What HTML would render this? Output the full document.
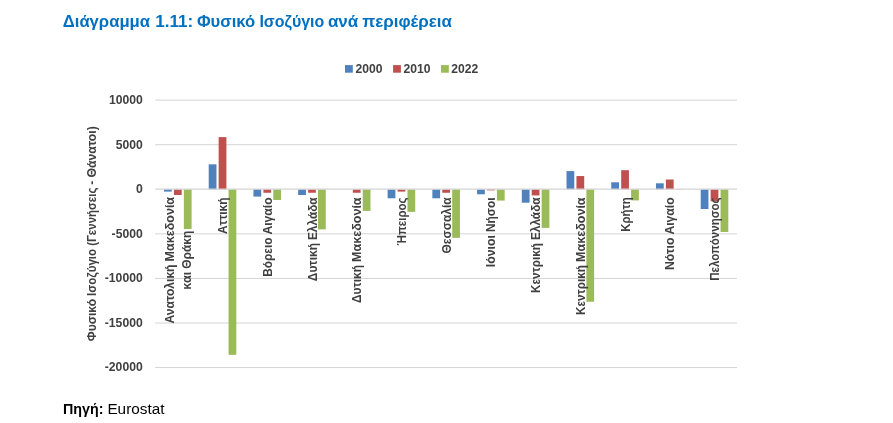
<!DOCTYPE html>
<html lang="el"><head><meta charset="utf-8"><title>Διάγραμμα 1.11</title>
<style>html,body{margin:0;padding:0;background:#fff}svg{display:block}text{font-family:"Liberation Sans",sans-serif}</style></head>
<body>
<svg width="893" height="423" viewBox="0 0 893 423">
<rect width="893" height="423" fill="#fff"/>
<g font-weight="bold" font-size="16" fill="#0070C0">
<text x="62.8" y="27" textLength="87.2" lengthAdjust="spacingAndGlyphs">Διάγραμμα</text>
<text x="155.2" y="27" textLength="38.0" lengthAdjust="spacingAndGlyphs">1.11:</text>
<text x="196.9" y="27" textLength="58.3" lengthAdjust="spacingAndGlyphs">Φυσικό</text>
<text x="259.4" y="27" textLength="64.9" lengthAdjust="spacingAndGlyphs">Ισοζύγιο</text>
<text x="327.9" y="27" textLength="30.4" lengthAdjust="spacingAndGlyphs">ανά</text>
<text x="362.3" y="27" textLength="89.6" lengthAdjust="spacingAndGlyphs">περιφέρεια</text>
</g>
<g font-weight="bold" font-size="12" fill="#404040">
<rect x="345.0" y="65.1" width="7.8" height="7.6" fill="#4F81BD"/><text x="355.6" y="73.1" textLength="27" lengthAdjust="spacingAndGlyphs">2000</text>
<rect x="393.1" y="65.1" width="7.8" height="7.6" fill="#C0504D"/><text x="403.4" y="73.1" textLength="27" lengthAdjust="spacingAndGlyphs">2010</text>
<rect x="441.0" y="65.1" width="7.8" height="7.6" fill="#9BBB59"/><text x="451.3" y="73.1" textLength="27" lengthAdjust="spacingAndGlyphs">2022</text>
</g>
<g stroke="#D4D4D4" stroke-width="1">
<line x1="155.2" y1="100.10" x2="737" y2="100.10"/>
<line x1="155.2" y1="144.70" x2="737" y2="144.70"/>
<line x1="155.2" y1="233.85" x2="737" y2="233.85"/>
<line x1="155.2" y1="278.45" x2="737" y2="278.45"/>
<line x1="155.2" y1="323.00" x2="737" y2="323.00"/>
<line x1="155.2" y1="367.55" x2="737" y2="367.55"/>
</g>
<g font-weight="bold" font-size="12" fill="#404040" text-anchor="end">
<text x="142.7" y="104.0" textLength="33.8" lengthAdjust="spacingAndGlyphs">10000</text>
<text x="142.7" y="148.6" textLength="27.0" lengthAdjust="spacingAndGlyphs">5000</text>
<text x="142.7" y="193.2" textLength="6.8" lengthAdjust="spacingAndGlyphs">0</text>
<text x="142.7" y="237.8" textLength="31.1" lengthAdjust="spacingAndGlyphs">-5000</text>
<text x="142.7" y="282.3" textLength="37.9" lengthAdjust="spacingAndGlyphs">-10000</text>
<text x="142.7" y="326.9" textLength="37.9" lengthAdjust="spacingAndGlyphs">-15000</text>
<text x="142.7" y="371.4" textLength="37.9" lengthAdjust="spacingAndGlyphs">-20000</text>
</g>
<g>
<rect x="164.00" y="189.30" width="7.75" height="2.31" fill="#4F81BD"/>
<rect x="173.93" y="189.30" width="7.75" height="5.69" fill="#C0504D"/>
<rect x="208.72" y="164.32" width="7.75" height="24.98" fill="#4F81BD"/>
<rect x="218.65" y="137.12" width="7.75" height="52.18" fill="#C0504D"/>
<rect x="253.45" y="189.30" width="7.75" height="7.29" fill="#4F81BD"/>
<rect x="263.38" y="189.30" width="7.75" height="3.47" fill="#C0504D"/>
<rect x="298.18" y="189.30" width="7.75" height="5.69" fill="#4F81BD"/>
<rect x="308.11" y="189.30" width="7.75" height="3.47" fill="#C0504D"/>
<rect x="342.90" y="189.30" width="7.75" height="0.00" fill="#4F81BD"/>
<rect x="352.83" y="189.30" width="7.75" height="3.47" fill="#C0504D"/>
<rect x="387.62" y="189.30" width="7.75" height="8.98" fill="#4F81BD"/>
<rect x="397.56" y="189.30" width="7.75" height="2.31" fill="#C0504D"/>
<rect x="432.35" y="189.30" width="7.75" height="8.98" fill="#4F81BD"/>
<rect x="442.28" y="189.30" width="7.75" height="3.47" fill="#C0504D"/>
<rect x="477.07" y="189.30" width="7.75" height="4.98" fill="#4F81BD"/>
<rect x="487.00" y="189.30" width="7.75" height="1.07" fill="#C0504D"/>
<rect x="521.80" y="189.30" width="7.75" height="13.42" fill="#4F81BD"/>
<rect x="531.73" y="189.30" width="7.75" height="6.13" fill="#C0504D"/>
<rect x="566.52" y="171.08" width="7.75" height="18.22" fill="#4F81BD"/>
<rect x="576.46" y="176.05" width="7.75" height="13.25" fill="#C0504D"/>
<rect x="611.25" y="182.28" width="7.75" height="7.02" fill="#4F81BD"/>
<rect x="621.18" y="170.19" width="7.75" height="19.11" fill="#C0504D"/>
<rect x="655.97" y="183.30" width="7.75" height="6.00" fill="#4F81BD"/>
<rect x="665.90" y="179.52" width="7.75" height="9.78" fill="#C0504D"/>
<rect x="700.70" y="189.30" width="7.75" height="19.74" fill="#4F81BD"/>
<rect x="710.63" y="189.30" width="7.75" height="11.91" fill="#C0504D"/>
</g>
<g>
<rect x="183.85" y="189.30" width="7.75" height="39.74" fill="#9BBB59"/>
<rect x="228.57" y="189.30" width="7.75" height="165.53" fill="#9BBB59"/>
<rect x="273.30" y="189.30" width="7.75" height="10.67" fill="#9BBB59"/>
<rect x="318.02" y="189.30" width="7.75" height="40.09" fill="#9BBB59"/>
<rect x="362.75" y="189.30" width="7.75" height="21.60" fill="#9BBB59"/>
<rect x="407.47" y="189.30" width="7.75" height="22.58" fill="#9BBB59"/>
<rect x="452.20" y="189.30" width="7.75" height="48.54" fill="#9BBB59"/>
<rect x="496.92" y="189.30" width="7.75" height="11.29" fill="#9BBB59"/>
<rect x="541.65" y="189.30" width="7.75" height="38.58" fill="#9BBB59"/>
<rect x="586.38" y="189.30" width="7.75" height="112.46" fill="#9BBB59"/>
<rect x="631.10" y="189.30" width="7.75" height="11.11" fill="#9BBB59"/>
<rect x="675.82" y="189.30" width="7.75" height="0.27" fill="#9BBB59"/>
<rect x="720.55" y="189.30" width="7.75" height="42.67" fill="#9BBB59"/>
</g>
<g font-weight="bold" font-size="12" fill="#404040">
<g transform="translate(174.36,323.47) rotate(-90)"><text x="0.00" y="0" textLength="58.96" lengthAdjust="spacingAndGlyphs">Ανατολική</text><text x="62.01" y="0" textLength="64.56" lengthAdjust="spacingAndGlyphs">Μακεδονία</text></g>
<g transform="translate(190.76,289.64) rotate(-90)"><text x="0.00" y="0" textLength="17.87" lengthAdjust="spacingAndGlyphs">και</text><text x="20.92" y="0" textLength="37.99" lengthAdjust="spacingAndGlyphs">Θράκη</text></g>
<g transform="translate(227.09,234.04) rotate(-90)"><text x="0.00" y="0" textLength="36.64" lengthAdjust="spacingAndGlyphs">Αττική</text></g>
<g transform="translate(271.81,276.73) rotate(-90)"><text x="0.00" y="0" textLength="39.14" lengthAdjust="spacingAndGlyphs">Βόρειο</text><text x="42.19" y="0" textLength="37.14" lengthAdjust="spacingAndGlyphs">Αιγαίο</text></g>
<g transform="translate(316.54,281.14) rotate(-90)"><text x="0.00" y="0" textLength="38.08" lengthAdjust="spacingAndGlyphs">Δυτική</text><text x="41.13" y="0" textLength="42.61" lengthAdjust="spacingAndGlyphs">Ελλάδα</text></g>
<g transform="translate(361.26,303.09) rotate(-90)"><text x="0.00" y="0" textLength="38.08" lengthAdjust="spacingAndGlyphs">Δυτική</text><text x="41.13" y="0" textLength="64.56" lengthAdjust="spacingAndGlyphs">Μακεδονία</text></g>
<g transform="translate(405.99,245.48) rotate(-90)"><text x="0.00" y="0" textLength="48.08" lengthAdjust="spacingAndGlyphs">Ήπειρος</text></g>
<g transform="translate(450.71,253.43) rotate(-90)"><text x="0.00" y="0" textLength="56.03" lengthAdjust="spacingAndGlyphs">Θεσσαλία</text></g>
<g transform="translate(495.44,267.18) rotate(-90)"><text x="0.00" y="0" textLength="32.12" lengthAdjust="spacingAndGlyphs">Ιόνιοι</text><text x="35.17" y="0" textLength="34.61" lengthAdjust="spacingAndGlyphs">Νήσοι</text></g>
<g transform="translate(540.16,293.01) rotate(-90)"><text x="0.00" y="0" textLength="49.94" lengthAdjust="spacingAndGlyphs">Κεντρική</text><text x="52.99" y="0" textLength="42.61" lengthAdjust="spacingAndGlyphs">Ελλάδα</text></g>
<g transform="translate(584.89,314.95) rotate(-90)"><text x="0.00" y="0" textLength="49.94" lengthAdjust="spacingAndGlyphs">Κεντρική</text><text x="52.99" y="0" textLength="64.56" lengthAdjust="spacingAndGlyphs">Μακεδονία</text></g>
<g transform="translate(629.61,231.69) rotate(-90)"><text x="0.00" y="0" textLength="34.29" lengthAdjust="spacingAndGlyphs">Κρήτη</text></g>
<g transform="translate(674.34,270.07) rotate(-90)"><text x="0.00" y="0" textLength="32.48" lengthAdjust="spacingAndGlyphs">Νότιο</text><text x="35.53" y="0" textLength="37.14" lengthAdjust="spacingAndGlyphs">Αιγαίο</text></g>
<g transform="translate(719.06,280.85) rotate(-90)"><text x="0.00" y="0" textLength="83.45" lengthAdjust="spacingAndGlyphs">Πελοπόννησος</text></g>
</g>
<g font-weight="bold" font-size="12" fill="#404040">
<g transform="translate(95.60,341.21) rotate(-90)"><text x="0.00" y="0" textLength="42.28" lengthAdjust="spacingAndGlyphs">Φυσικό</text><text x="45.30" y="0" textLength="47.06" lengthAdjust="spacingAndGlyphs">Ισοζύγιο</text><text x="95.38" y="0" textLength="58.19" lengthAdjust="spacingAndGlyphs">(Γεννήσεις</text><text x="156.59" y="0" textLength="4.09" lengthAdjust="spacingAndGlyphs">-</text><text x="163.70" y="0" textLength="51.30" lengthAdjust="spacingAndGlyphs">Θάνατοι)</text></g>
</g>
<line x1="155.2" y1="189.15" x2="737" y2="189.15" stroke="#D4D4D4" stroke-width="1.3"/>
<text x="63" y="413.6" font-size="14" fill="#000"><tspan font-weight="bold" textLength="40.4" lengthAdjust="spacingAndGlyphs">Πηγή:</tspan></text>
<text x="107.4" y="413.6" font-size="14" fill="#000" textLength="57.1" lengthAdjust="spacingAndGlyphs">Eurostat</text>
</svg>
</body></html>
